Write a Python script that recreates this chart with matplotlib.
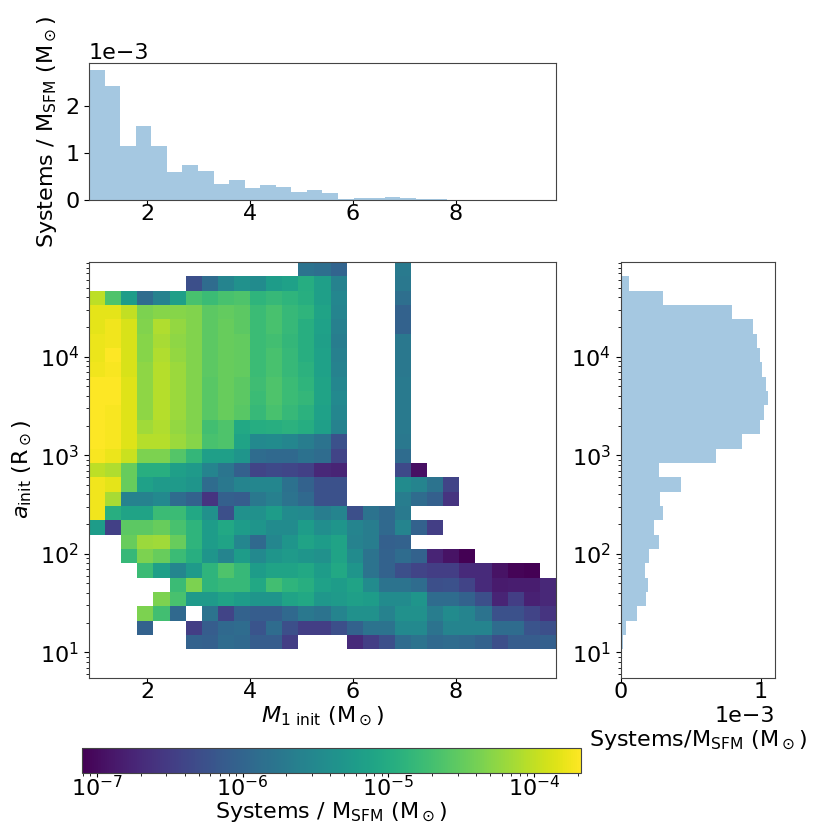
import numpy as np
import matplotlib
matplotlib.use("Agg")
import matplotlib.pyplot as plt
from matplotlib.colors import LogNorm

plt.rcParams["font.size"] = 16
plt.rcParams["axes.edgecolor"] = "#444444"
plt.rcParams["xtick.major.pad"] = 0.0
plt.rcParams["xtick.major.size"] = 3.0

N = None

# ---- binning of the 2D histogram (data ranges) ----
M1_RANGE = (0.866, 9.956)       # M_1 init (Msun)
LOG_A_RANGE = (0.74, 4.96)      # log10 a_init (Rsun)
N_BINS_2D = 29
N_BINS_M1_HIST = 30
CBAR_RANGE = (7.9e-8, 2.1e-4)

# log10(Systems / M_SFM) per cell; rows from the widest orbits (top) downwards,
# columns from low to high M_1 ; None = empty cell
log_density_rows = [
    [N]*13 + [-5.80, -5.87, -6.01, N, N, N, -5.70],
    [N]*6 + [-6.28, -5.90, -5.56, -5.39, -5.46, -5.22, -5.15, -4.98, -5.18, -5.60, N, N, N, -5.73],
    [-4.02, -4.64, -5.22, -5.90, -5.60, -5.18, -4.67, -4.77, -4.67, -4.64, -4.88, -4.81, -4.88, -4.95, -5.18, -5.53, N, N, N, -5.87],
    [-3.82, -3.82, -3.99, -4.36, -4.30, -4.30, -4.33, -4.54, -4.50, -4.54, -4.77, -4.67, -4.81, -4.88, -5.12, -5.56, N, N, N, -6.04],
    [-3.82, -3.75, -3.89, -4.33, -4.09, -4.23, -4.33, -4.54, -4.47, -4.54, -4.77, -4.67, -4.81, -4.95, -5.15, -5.63, N, N, N, -6.04],
    [-3.78, -3.75, -3.89, -4.30, -4.12, -4.26, -4.33, -4.54, -4.47, -4.50, -4.77, -4.71, -4.84, -4.95, -5.18, -5.66, N, N, N, -5.73],
    [-3.78, -3.68, -3.89, -4.30, -4.09, -4.23, -4.33, -4.54, -4.47, -4.50, -4.77, -4.67, -4.81, -4.95, -5.15, -5.63, N, N, N, -5.73],
    [-3.75, -3.71, -3.89, -4.26, -4.06, -4.19, -4.33, -4.54, -4.47, -4.50, -4.77, -4.67, -4.81, -4.91, -5.15, -5.60, N, N, N, -5.73],
    [-3.68, -3.68, -3.85, -4.26, -4.06, -4.19, -4.33, -4.57, -4.47, -4.54, -4.74, -4.64, -4.77, -4.88, -5.12, -5.53, N, N, N, -5.70],
    [-3.68, -3.68, -3.85, -4.26, -4.06, -4.19, -4.33, -4.57, -4.47, -4.54, -4.77, -4.64, -4.77, -4.84, -5.12, -5.49, N, N, N, -5.70],
    [-3.68, -3.71, -3.85, -4.26, -4.06, -4.19, -4.33, -4.57, -4.47, -4.57, -4.81, -4.67, -4.81, -4.91, -5.15, -5.53, N, N, N, -5.70],
    [-3.68, -3.71, -3.85, -4.16, -4.09, -4.23, -4.33, -4.71, -4.64, -5.05, -4.98, -4.95, -4.91, -4.98, -5.18, -5.60, N, N, N, -5.70],
    [-3.68, -3.71, -3.85, -4.06, -4.06, -4.19, -4.30, -4.67, -4.64, -5.12, -5.49, -5.46, -5.53, -5.66, -5.80, -6.25, N, N, N, -5.73],
    [-3.71, -3.78, -3.95, -4.36, -4.36, -4.60, -4.84, -5.18, -5.18, -5.32, -5.90, -5.94, -5.94, -5.83, -5.90, -6.42, N, N, N, -5.90],
    [-4.02, -4.09, -4.47, -4.95, -4.95, -5.18, -5.25, -5.56, -5.77, -6.07, -6.42, -6.35, -6.38, -6.45, -6.72, -6.76, N, N, N, -6.35, -6.96],
    [-3.75, -3.82, -4.47, -5.15, -5.25, -5.25, -5.32, -5.90, -5.73, -5.56, -5.53, -5.53, -5.83, -6.04, -6.25, -6.25, N, N, N, -5.46, -5.56, -5.80, -6.42],
    [-3.75, -4.12, -5.60, -5.60, -5.49, -5.90, -6.04, -6.59, -6.07, -6.11, -5.73, -5.63, -5.80, -5.94, -6.25, -6.25, N, N, N, -5.66, -5.90, -6.07, -6.59],
    [-3.75, -4.95, -5.12, -5.12, -4.77, -4.77, -5.05, -5.39, -6.28, -5.39, -5.39, -5.22, -5.46, -5.49, -5.66, -5.56, -6.28, -5.80, -5.94, -5.70],
    [-5.22, -6.45, -4.54, -4.54, -4.47, -4.67, -4.88, -5.22, -5.05, -5.22, -5.32, -5.46, -5.46, -5.22, -5.42, -5.32, -5.56, -5.66, -5.94, -5.56, -6.04, -6.48],
    [N, N, -4.47, -4.19, -4.16, -4.47, -4.88, -5.22, -5.12, -5.53, -5.94, -5.53, -5.32, -5.12, -5.22, -5.12, -5.60, -5.66, -6.07, -6.04],
    [N, N, -4.81, -4.36, -4.47, -4.77, -4.95, -5.32, -5.56, -5.22, -5.49, -5.32, -5.25, -5.32, -5.39, -5.12, -5.46, -5.80, -6.04, -5.90, -6.04, -6.76, -6.93, -7.10],
    [N, N, N, -4.77, -5.18, -5.53, -5.25, -4.88, -4.64, -4.81, -5.22, -5.12, -5.12, -5.05, -5.22, -5.05, -5.32, -5.80, -6.04, -6.28, -6.42, -6.48, -6.48, -6.69, -6.69, -6.93, -7.07, -7.10],
    [N]*5 + [-4.77, -4.36, -4.88, -4.81, -4.81, -5.05, -4.71, -4.88, -4.95, -5.15, -5.22, -5.12, -5.46, -5.80, -5.80, -5.90, -6.28, -6.25, -6.42, -6.69, -6.86, -6.83, -6.83, -6.72],
    [N]*4 + [-4.36, -4.67, -5.25, -5.25, -5.12, -5.22, -5.32, -5.32, -5.12, -5.05, -5.29, -5.25, -5.18, -5.22, -5.46, -5.46, -5.32, -5.90, -5.90, -6.04, -6.28, -6.76, -6.48, -6.79, -6.72],
    [N]*3 + [-4.36, -4.71, -5.94, N, -5.80, -6.42, -6.04, -6.11, -6.11, -5.94, -5.73, -5.80, -5.56, -5.39, -5.39, -5.60, -5.39, -5.39, -5.66, -5.46, -5.56, -5.80, -6.25, -6.25, -6.42, -6.59],
    [N]*3 + [-6.04, N, N, -6.48, -6.11, -5.94, -5.90, -6.21, -5.90, -6.28, -6.48, -6.48, -6.28, -6.04, -5.80, -5.80, -5.49, -5.49, -5.80, -5.56, -5.56, -5.56, -5.90, -5.90, -6.21, -6.28],
    [N]*6 + [-6.04, -6.07, -5.90, -5.94, -6.11, -6.11, -6.48, N, N, N, -6.69, -6.48, -6.28, -5.90, -5.80, -5.94, -5.90, -5.94, -6.04, -6.28, -6.11, -6.11, -6.07],
    [],
    [],
]

# marginal in M_1 (units of 1e-3 Systems / M_SFM), 30 bins, low to high M_1
m1_hist_e3 = [2.78, 2.44, 1.15, 1.57, 1.16, 0.60, 0.75, 0.62, 0.34, 0.435,
              0.25, 0.33, 0.27, 0.17, 0.21, 0.15, 0.015, 0.035, 0.035, 0.056,
              0.035, 0.015, 0.015, 0.010, 0.008, 0.008, 0.006, 0.0, 0.0, 0.0]

# marginal in a_init (units of 1e-3), 29 bins from small to large separation
a_hist_e3 = [0.0, 0.0, 0.019, 0.040, 0.114, 0.178, 0.195, 0.171, 0.202, 0.271,
             0.240, 0.304, 0.278, 0.428, 0.273, 0.679, 0.869, 0.995, 1.024, 1.052,
             1.040, 1.012, 0.995, 0.976, 0.943, 0.796, 0.304, 0.059, 0.004]

# ---- build arrays ----
x_edges = np.linspace(M1_RANGE[0], M1_RANGE[1], N_BINS_2D + 1)
y_edges = np.logspace(LOG_A_RANGE[0], LOG_A_RANGE[1], N_BINS_2D + 1)
rows = [r + [None] * (N_BINS_2D - len(r)) for r in log_density_rows]
log_grid = np.array(rows[::-1], dtype=float)
density = np.ma.masked_invalid(10.0 ** log_grid)

xh_edges = np.linspace(M1_RANGE[0], M1_RANGE[1], N_BINS_M1_HIST + 1)
xh_centers = 0.5 * (xh_edges[:-1] + xh_edges[1:])
m1_hist = np.array(m1_hist_e3) * 1e-3

y_centers = np.sqrt(y_edges[:-1] * y_edges[1:])
a_hist = np.array(a_hist_e3) * 1e-3

# ---- figure ----
fig = plt.figure(figsize=(8.3, 8.3), dpi=100)
ax_main = fig.add_axes([0.1072, 0.1831, 0.5627, 0.5012])
ax_top = fig.add_axes([0.1072, 0.7590, 0.5627, 0.1650])
ax_right = fig.add_axes([0.7478, 0.1831, 0.1863, 0.5012])
cax = fig.add_axes([0.0988, 0.0687, 0.6012, 0.0301])

mesh = ax_main.pcolormesh(x_edges, y_edges, density, cmap="viridis",
                          norm=LogNorm(vmin=CBAR_RANGE[0], vmax=CBAR_RANGE[1]))
ax_main.set_yscale("log")
ax_main.set_xlim(x_edges[0], x_edges[-1])
ax_main.set_ylim(y_edges[0], y_edges[-1])
ax_main.set_xlabel(r"$M_{1\ \rm init}$ (M$_\odot$)", labelpad=2)
ax_main.set_ylabel(r"$a_{\rm init}$ (R$_\odot$)")
ax_main.set_xticks([2, 4, 6, 8])

ax_top.hist(xh_centers, bins=xh_edges, weights=m1_hist, color="C0", alpha=0.4)
ax_top.set_xlim(x_edges[0], x_edges[-1])
ax_top.set_xticks([2, 4, 6, 8])
ax_top.ticklabel_format(axis="y", style="sci", scilimits=(0, 0))
ax_top.set_ylabel(r"Systems / M$_{\rm SFM}$ (M$_\odot$)")

ax_right.hist(y_centers, bins=y_edges, weights=a_hist, color="C0", alpha=0.4,
              orientation="horizontal")
ax_right.set_yscale("log")
ax_right.set_ylim(y_edges[0], y_edges[-1])
ax_right.set_xticks([0, 1e-3])
ax_right.ticklabel_format(axis="x", style="sci", scilimits=(0, 0))
ax_right.set_xlabel(r"Systems/M$_{\rm SFM}$ (M$_\odot$)", labelpad=19)

cb = fig.colorbar(mesh, cax=cax, orientation="horizontal")
cb.ax.tick_params(axis="x", which="major", pad=-1.5)
cb.set_label(r"Systems / M$_{\rm SFM}$ (M$_\odot$)", labelpad=0)
cb.outline.set_edgecolor("#444444")

fig.savefig("out.png", dpi=100)
